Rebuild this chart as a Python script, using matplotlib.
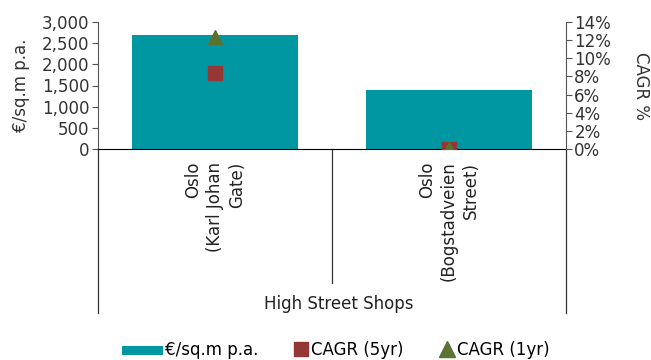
import matplotlib
matplotlib.use('Agg')
import matplotlib.pyplot as plt
from matplotlib.lines import Line2D
from matplotlib.patches import Patch, Rectangle
from matplotlib.legend_handler import HandlerPatch
from matplotlib.ticker import FuncFormatter

# data
categories = ['Oslo\n(Karl Johan\nGate)', 'Oslo\n(Bogstadveien\nStreet)']
group_label = 'High Street Shops'
rent = [2700, 1400]
cagr_5yr = [8.4, 0.0]
cagr_1yr = [12.3, 0.0]

teal = '#0097A3'
red = '#953735'
green = '#5A7330'

plt.rcParams['font.family'] = ['DejaVu Sans']
plt.rcParams['font.size'] = 12


class WideBar(HandlerPatch):
    # legend swatch for the bars is a long flat band, wider than the marker handles
    def create_artists(self, legend, orig_handle, xdescent, ydescent, width, height, fontsize, trans):
        w = 29.5
        r = Rectangle((width - w - xdescent, -ydescent), w, 6.5,
                      facecolor=orig_handle.get_facecolor(), edgecolor='none', transform=trans)
        return [r]


fig = plt.figure(figsize=(6.51, 3.6), dpi=100)
ax = fig.add_axes([98/651, 1-149/360, (566-98)/651, 127/360])
x = list(range(len(categories)))
ax.bar(x, rent, width=0.71, color=teal, zorder=2)
ax.set_xlim(-0.5, 1.5)
ax.set_ylim(0, 3000)
ax.set_yticks(range(0, 3001, 500))
ax.yaxis.set_major_formatter(FuncFormatter(lambda v, p: f'{int(v):,}'))
ax.set_ylabel('€/sq.m p.a.', labelpad=9, color='#333333')
ax.set_xticks([])
for s in ['top', 'right']:
    ax.spines[s].set_visible(False)
ax.spines['left'].set_color('#555555')
ax.spines['bottom'].set_color('black')
ax.tick_params(axis='y', length=4, width=0.8, color='#555555', labelcolor='#333333', pad=2)

ax2 = ax.twinx()
ax2.set_ylim(0, 14)
ax2.set_yticks(range(0, 15, 2))
ax2.yaxis.set_major_formatter(FuncFormatter(lambda v, p: f'{int(v)}%'))
ax2.plot(x, cagr_5yr, ls='none', marker='s', ms=9.5, color=red, zorder=3)
ax2.plot(x, cagr_1yr, ls='none', marker='^', ms=10, color=green, zorder=4)
for s in ['top', 'left', 'bottom']:
    ax2.spines[s].set_visible(False)
ax2.spines['right'].set_color('#555555')
ax2.tick_params(axis='y', length=4, width=0.8, color='#555555', labelcolor='#333333', pad=2)
ax2.set_ylabel('CAGR %', rotation=270, labelpad=28, color='#333333')

# category labels and separators below the axis
for i, lab in enumerate(categories):
    ax.text(i, -0.1, lab, rotation=90, ha='center', va='top', multialignment='right',
            transform=ax.get_xaxis_transform(), color='#222222', linespacing=1.3)
ax.plot([-0.5, -0.5], [0, -1.29], color='#333333', lw=0.9, clip_on=False,
        transform=ax.get_xaxis_transform())
ax.plot([0.5, 0.5], [0, -1.055], color='#333333', lw=0.9, clip_on=False,
        transform=ax.get_xaxis_transform())
ax.plot([1.5, 1.5], [0, -1.29], color='#333333', lw=0.9, clip_on=False,
        transform=ax.get_xaxis_transform())
ax.text(0.53, -1.22, group_label, ha='center', va='center',
        transform=ax.get_xaxis_transform(), color='#222222')

handles = [Patch(color=teal),
           Line2D([], [], ls='none', marker='s', ms=10, color=red),
           Line2D([], [], ls='none', marker='^', ms=11, color=green)]
fig.legend(handles, ['€/sq.m p.a.', 'CAGR (5yr)', 'CAGR (1yr)'], loc='center',
           bbox_to_anchor=(348/651, 1-350/360), ncol=3, frameon=False,
           handler_map={Patch: WideBar()},
           handlelength=1.0, handletextpad=0.1, columnspacing=2.1)

fig.savefig('out.png', dpi=100)
